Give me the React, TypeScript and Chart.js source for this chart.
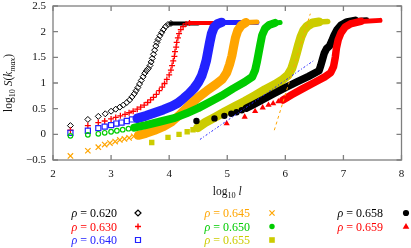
import React, { useEffect, useRef } from 'react';
import { Chart, registerables } from 'chart.js';

Chart.register(...registerables);

type P = [number, number];

// ---- axes ----
const xTicks = [2, 3, 4, 5, 6, 7, 8];
const yTicks = [-0.5, 0, 0.5, 1, 1.5, 2, 2.5];

// ---- rho = 0.620 (open diamonds) ----
const rho620Pts: P[] = [
  [2.30, 0.17], [2.60, 0.29], [2.78, 0.35], [2.90, 0.40], [3.00, 0.45], [3.08, 0.49], [3.15, 0.53],
  [3.21, 0.57], [3.27, 0.62], [3.32, 0.67], [3.36, 0.73], [3.40, 0.79], [3.43, 0.85], [3.46, 0.91],
  [3.49, 0.98], [3.52, 1.05], [3.55, 1.12], [3.58, 1.19], [3.61, 1.24], [3.64, 1.28], [3.67, 1.34],
  [3.69, 1.41], [3.71, 1.48], [3.73, 1.56], [3.75, 1.64], [3.77, 1.72], [3.79, 1.79], [3.81, 1.85],
  [3.84, 1.92], [3.87, 1.98], [3.90, 2.04], [3.94, 2.10], [3.98, 2.14], [4.03, 2.16],
];
const rho620Top: P[] = [[4.03, 2.16], [4.50, 2.16]];

// ---- rho = 0.630 (plus) ----
const rho630Pts: P[] = [
  [2.30, 0.08], [2.60, 0.17], [2.78, 0.23], [2.89, 0.26], [3.00, 0.30], [3.08, 0.33], [3.16, 0.36],
  [3.24, 0.39], [3.31, 0.42], [3.38, 0.45], [3.45, 0.49], [3.51, 0.53], [3.57, 0.57], [3.63, 0.62],
  [3.68, 0.67], [3.73, 0.72], [3.78, 0.78], [3.83, 0.85], [3.88, 0.92], [3.92, 0.99], [3.96, 1.07],
  [4.00, 1.16], [4.03, 1.25], [4.05, 1.34], [4.07, 1.43], [4.09, 1.52], [4.10, 1.61], [4.12, 1.70],
  [4.13, 1.79], [4.15, 1.88], [4.17, 1.96], [4.20, 2.04], [4.24, 2.10], [4.29, 2.15], [4.35, 2.17],
];
const rho630Top: P[] = [[4.35, 2.17], [4.90, 2.17]];

// ---- rho = 0.640 (open squares) ----
const rho640Pts: P[] = [
  [2.30, 0.03], [2.60, 0.07], [2.78, 0.12], [2.89, 0.15], [3.00, 0.18], [3.09, 0.21], [3.18, 0.23],
  [3.27, 0.26], [3.36, 0.29], [3.45, 0.31],
];
const rho640Band: P[] = [
  [3.45, 0.31], [3.60, 0.36], [3.75, 0.42], [3.90, 0.48], [4.05, 0.55], [4.15, 0.61], [4.25, 0.70],
  [4.35, 0.80], [4.43, 0.90], [4.50, 1.01], [4.56, 1.14], [4.60, 1.28], [4.64, 1.44], [4.67, 1.62],
  [4.70, 1.80], [4.73, 1.96], [4.77, 2.08], [4.83, 2.15], [4.90, 2.18],
];
const rho640Top: P[] = [[4.90, 2.18], [5.51, 2.18]];

// ---- rho = 0.645 (crosses) ----
const rho645Pts: P[] = [
  [2.30, -0.42], [2.60, -0.32], [2.78, -0.25], [2.89, -0.20], [2.98, -0.17], [3.07, -0.14], [3.15, -0.11],
  [3.23, -0.09], [3.31, -0.07], [3.39, -0.04], [3.47, -0.02],
];
const rho645Band: P[] = [
  [3.47, -0.02], [3.60, 0.02], [3.75, 0.08], [3.90, 0.15], [4.05, 0.25], [4.20, 0.40], [4.35, 0.57],
  [4.50, 0.72], [4.65, 0.85], [4.80, 0.97], [4.92, 1.08], [4.99, 1.20], [5.04, 1.36], [5.08, 1.53],
  [5.11, 1.71], [5.14, 1.88], [5.18, 2.02], [5.24, 2.12], [5.32, 2.18],
];
const rho645Top: P[] = [[5.32, 2.18], [5.51, 2.19]];

// ---- rho = 0.650 (open circles) ----
const rho650Pts: P[] = [
  [2.30, -0.03], [2.60, -0.01], [2.78, 0.01], [2.89, 0.03], [3.00, 0.05], [3.10, 0.07], [3.20, 0.09],
  [3.30, 0.11], [3.40, 0.13],
];
const rho650Band: P[] = [
  [3.40, 0.13], [3.60, 0.18], [3.85, 0.25], [4.10, 0.32], [4.30, 0.41], [4.50, 0.51], [4.70, 0.63],
  [4.90, 0.75], [5.10, 0.89], [5.30, 1.02], [5.43, 1.12], [5.48, 1.25], [5.51, 1.40], [5.54, 1.58],
  [5.57, 1.76], [5.60, 1.93], [5.65, 2.06], [5.72, 2.13], [5.82, 2.17],
];
const rho650Top: P[] = [[5.82, 2.17], [5.91, 2.18]];

// ---- rho = 0.655 (filled squares) ----
const rho655Pts: P[] = [
  [3.70, -0.16], [3.98, -0.06], [4.17, 0.00], [4.31, 0.05], [4.41, 0.09], [4.49, 0.13],
];
const rho655Band: P[] = [
  [4.49, 0.13], [4.62, 0.23], [4.80, 0.34], [4.96, 0.44], [5.13, 0.54], [5.30, 0.64], [5.47, 0.75],
  [5.65, 0.87], [5.82, 0.97], [5.95, 1.06], [6.05, 1.16], [6.11, 1.28], [6.15, 1.42], [6.19, 1.58],
  [6.23, 1.75], [6.27, 1.90], [6.32, 2.03], [6.38, 2.11], [6.47, 2.17], [6.58, 2.19],
];
const rho655Top: P[] = [[6.58, 2.19], [6.73, 2.20]];

// ---- rho = 0.658 (filled circles) ----
const rho658Pts: P[] = [
  [4.47, 0.26], [4.78, 0.31], [4.95, 0.36], [5.07, 0.40], [5.16, 0.43], [5.25, 0.47], [5.33, 0.51],
];
const rho658Band: P[] = [
  [5.33, 0.51], [5.45, 0.58], [5.60, 0.67], [5.80, 0.79], [6.00, 0.91], [6.20, 1.02], [6.40, 1.13],
  [6.58, 1.24], [6.61, 1.34], [6.64, 1.46], [6.67, 1.58], [6.71, 1.67], [6.76, 1.72], [6.80, 1.82],
  [6.84, 1.93], [6.89, 2.04], [6.96, 2.13], [7.06, 2.19], [7.20, 2.22],
];
const rho658Top: P[] = [[7.20, 2.22], [7.40, 2.23]];

// ---- rho = 0.659 (filled triangles) ----
const rho659Pts: P[] = [
  [4.99, 0.21], [5.30, 0.34], [5.48, 0.45], [5.61, 0.52], [5.71, 0.57], [5.79, 0.60], [5.88, 0.64], [5.96, 0.67],
];
const rho659Band: P[] = [
  [5.96, 0.67], [6.11, 0.77], [6.30, 0.89], [6.50, 1.01], [6.68, 1.12], [6.78, 1.20], [6.83, 1.32],
  [6.86, 1.50], [6.88, 1.68], [6.91, 1.84], [6.96, 1.98], [7.03, 2.09], [7.12, 2.15], [7.30, 2.20],
];
const rho659Top: P[] = [[7.30, 2.20], [7.63, 2.22]];

// ---- fit lines ----
const fitBlue: P[] = [[4.53, -0.10], [6.48, 1.43]];
const fitOrange: P[] = [[5.81, 0.08], [6.43, 2.35]];

// ---- legend ----
const legendRho = ['0.620', '0.630', '0.640', '0.645', '0.650', '0.655', '0.658', '0.659'];

const BLACK = '#000000';
const RED = '#ff0000';
const BLUE = '#2222ff';
const ORANGE = '#ffa500';
const GREEN = '#00cc00';
const YELLOW = '#cccc00';

const legendColors = [BLACK, RED, BLUE, ORANGE, GREEN, YELLOW, BLACK, RED];
const legendMarks = ['diamond', 'plus', 'square', 'x', 'circle', 'squareFilled', 'dot', 'triangle'];

const FONT = '"Liberation Serif", "DejaVu Serif", serif';

const xy = (a: P[]) => a.map(([x, y]) => ({ x, y }));

function buildDatasets() {
  const ds: any[] = [];
  let order = 1000;
  const markers = (data: P[], color: string, style: string, r: number, filled: boolean, bw = 1.2) => {
    ds.push({
      data: xy(data), showLine: false, pointStyle: style, pointRadius: r, pointBorderWidth: bw,
      borderColor: color, backgroundColor: filled ? color : 'transparent',
      pointBackgroundColor: filled ? color : 'transparent', pointBorderColor: color, order: order--,
    });
  };
  const band = (data: P[], color: string, w: number) => {
    ds.push({
      data: xy(data), showLine: true, pointRadius: 0, borderWidth: w, borderColor: color,
      borderCapStyle: 'round', borderJoinStyle: 'round', order: order--,
    });
  };
  markers(rho620Pts, BLACK, 'rectRot', 3, false, 1);
  band(rho620Top, BLACK, 4);
  markers(rho630Pts, RED, 'cross', 3, false, 1.3);
  band(rho630Top, RED, 4);
  markers(rho640Pts, BLUE, 'rect', 3.6, false, 1.2);
  band(rho640Band, BLUE, 9.5);
  band(rho640Top, BLUE, 5);
  markers(rho645Pts, ORANGE, 'crossRot', 3.8, false, 1.2);
  band(rho645Band, ORANGE, 9);
  band(rho645Top, ORANGE, 5);
  markers(rho650Pts, GREEN, 'circle', 2.3, false, 1.2);
  band(rho650Band, GREEN, 8);
  band(rho650Top, GREEN, 5);
  markers(rho655Pts, YELLOW, 'rect', 3.8, true, 0);
  band(rho655Band, YELLOW, 9);
  band(rho655Top, YELLOW, 5.5);
  markers(rho658Pts, BLACK, 'circle', 3.2, true, 0);
  band(rho658Band, BLACK, 7.5);
  band(rho658Top, BLACK, 5);
  markers(rho659Pts, RED, 'triangle', 3.6, true, 0);
  band(rho659Band, RED, 7.5);
  band(rho659Top, RED, 5);
  ds.push({
    data: xy(fitBlue), showLine: true, pointRadius: 0, borderWidth: 1, borderColor: BLUE,
    borderDash: [2, 2, 1, 2], order: order--,
  });
  ds.push({
    data: xy(fitOrange), showLine: true, pointRadius: 0, borderWidth: 1, borderColor: ORANGE,
    borderDash: [3, 3], order: order--,
  });
  return ds;
}

type Seg = { t: string; it?: boolean; sub?: boolean };

function drawRich(ctx: CanvasRenderingContext2D, segs: Seg[], x: number, y: number, size: number, align: string, color: string) {
  const font = (s: Seg) => `${s.it ? 'italic ' : ''}${s.sub ? size * 0.72 : size}px ${FONT}`;
  let w = 0;
  for (const s of segs) { ctx.font = font(s); w += ctx.measureText(s.t).width; }
  let cx = align === 'center' ? x - w / 2 : align === 'right' ? x - w : x;
  ctx.fillStyle = color;
  ctx.textAlign = 'left';
  ctx.textBaseline = 'alphabetic';
  for (const s of segs) {
    ctx.font = font(s);
    ctx.fillText(s.t, cx, y + (s.sub ? size * 0.28 : 0));
    cx += ctx.measureText(s.t).width;
  }
}

function drawMarker(ctx: CanvasRenderingContext2D, kind: string, x: number, y: number, color: string) {
  ctx.save();
  ctx.strokeStyle = color;
  ctx.fillStyle = color;
  ctx.lineWidth = 1.2;
  ctx.beginPath();
  switch (kind) {
    case 'diamond':
      ctx.moveTo(x - 3, y); ctx.lineTo(x, y - 3); ctx.lineTo(x + 3, y); ctx.lineTo(x, y + 3); ctx.closePath(); ctx.stroke();
      break;
    case 'plus':
      ctx.lineWidth = 1.4;
      ctx.moveTo(x - 3, y); ctx.lineTo(x + 3, y); ctx.moveTo(x, y - 3); ctx.lineTo(x, y + 3); ctx.stroke();
      break;
    case 'square':
      ctx.rect(x - 2.5, y - 2.5, 5, 5); ctx.stroke();
      break;
    case 'x':
      ctx.moveTo(x - 2.6, y - 2.6); ctx.lineTo(x + 2.6, y + 2.6); ctx.moveTo(x + 2.6, y - 2.6); ctx.lineTo(x - 2.6, y + 2.6); ctx.stroke();
      break;
    case 'circle':
      ctx.arc(x, y, 2.7, 0, Math.PI * 2); ctx.fill();
      break;
    case 'squareFilled':
      ctx.rect(x - 2.8, y - 2.8, 5.6, 5.6); ctx.fill();
      break;
    case 'dot':
      ctx.arc(x, y, 3.1, 0, Math.PI * 2); ctx.fill();
      break;
    case 'triangle':
      ctx.moveTo(x, y - 3.6); ctx.lineTo(x + 3.3, y + 2.3); ctx.lineTo(x - 3.3, y + 2.3); ctx.closePath(); ctx.fill();
      break;
  }
  ctx.restore();
}

const framePlugin = {
  id: 'gnuFrame',
  afterDraw(chart: any) {
    const { ctx, chartArea: a, scales } = chart;
    const xs = scales.x;
    const ys = scales.y;
    ctx.save();
    // frame
    ctx.strokeStyle = '#7f7f7f';
    ctx.lineWidth = 1.3;
    ctx.strokeRect(a.left, a.top, a.right - a.left, a.bottom - a.top);
    ctx.beginPath();
    for (const v of xTicks) {
      const px = xs.getPixelForValue(v);
      ctx.moveTo(px, a.bottom); ctx.lineTo(px, a.bottom - 5);
      ctx.moveTo(px, a.top); ctx.lineTo(px, a.top + 5);
    }
    for (const v of yTicks) {
      const py = ys.getPixelForValue(v);
      ctx.moveTo(a.left, py); ctx.lineTo(a.left + 5, py);
      ctx.moveTo(a.right, py); ctx.lineTo(a.right - 5, py);
    }
    ctx.stroke();

    // tick labels
    ctx.fillStyle = '#111';
    ctx.font = `11px ${FONT}`;
    ctx.textAlign = 'center';
    ctx.textBaseline = 'middle';
    for (const v of xTicks) ctx.fillText(String(v), xs.getPixelForValue(v), a.bottom + 14);
    ctx.textAlign = 'right';
    for (const v of yTicks) ctx.fillText(v < 0 ? '\u2212' + String(-v) : String(v), a.left - 7, ys.getPixelForValue(v));

    // axis titles
    drawRich(ctx, [{ t: 'log' }, { t: '10', sub: true }, { t: ' ' }, { t: 'l', it: true }], (a.left + a.right) / 2, a.bottom + 35, 11.5, 'center', '#111');
    ctx.save();
    ctx.translate(12, (a.top + a.bottom) / 2);
    ctx.rotate(-Math.PI / 2);
    drawRich(ctx, [{ t: 'log' }, { t: '10', sub: true }, { t: ' ' }, { t: 'S', it: true }, { t: '(' }, { t: 'k', it: true }, { t: 'max', it: true, sub: true }, { t: ')' }], 0, 0, 11.5, 'center', '#111');
    ctx.restore();

    // legend (three columns, column-major)
    const colText = [117, 250, 383];
    const colMark = [138, 272, 406];
    const rowY = [213, 226.5, 240];
    legendRho.forEach((lab, i) => {
      const c = Math.floor(i / 3);
      const r = i % 3;
      drawRich(ctx, [{ t: '\u03c1', it: true }, { t: ' = ' + lab }], colText[c], rowY[r] + 4, 12, 'right', legendColors[i]);
      drawMarker(ctx, legendMarks[i], colMark[c], rowY[r], legendColors[i]);
    });
    ctx.restore();
  },
};

export default function App() {
  const ref = useRef<HTMLCanvasElement>(null);
  useEffect(() => {
    const chart = new Chart(ref.current as HTMLCanvasElement, {
      type: 'scatter',
      data: { datasets: buildDatasets() },
      options: {
        responsive: false,
        animation: false,
        devicePixelRatio: 1,
        events: [],
        layout: { padding: { left: 0, right: 9.5, top: 6, bottom: 0 } },
        plugins: { legend: { display: false }, tooltip: { enabled: false } },
        elements: { line: { tension: 0 } },
        scales: {
          x: {
            type: 'linear', min: 2, max: 8,
            ticks: { display: false }, grid: { display: false }, border: { display: false },
            afterFit: (s: any) => { s.height = 88; },
          },
          y: {
            type: 'linear', min: -0.5, max: 2.5,
            ticks: { display: false }, grid: { display: false }, border: { display: false },
            afterFit: (s: any) => { s.width = 53; },
          },
        },
      } as any,
      plugins: [framePlugin],
    });
    return () => chart.destroy();
  }, []);
  return (
    <div style={{ position: 'absolute', left: 0, top: 0, width: 411, height: 248, background: '#fff' }}>
      <canvas ref={ref} width={411} height={248} style={{ display: 'block', width: 411, height: 248 }} />
    </div>
  );
}
